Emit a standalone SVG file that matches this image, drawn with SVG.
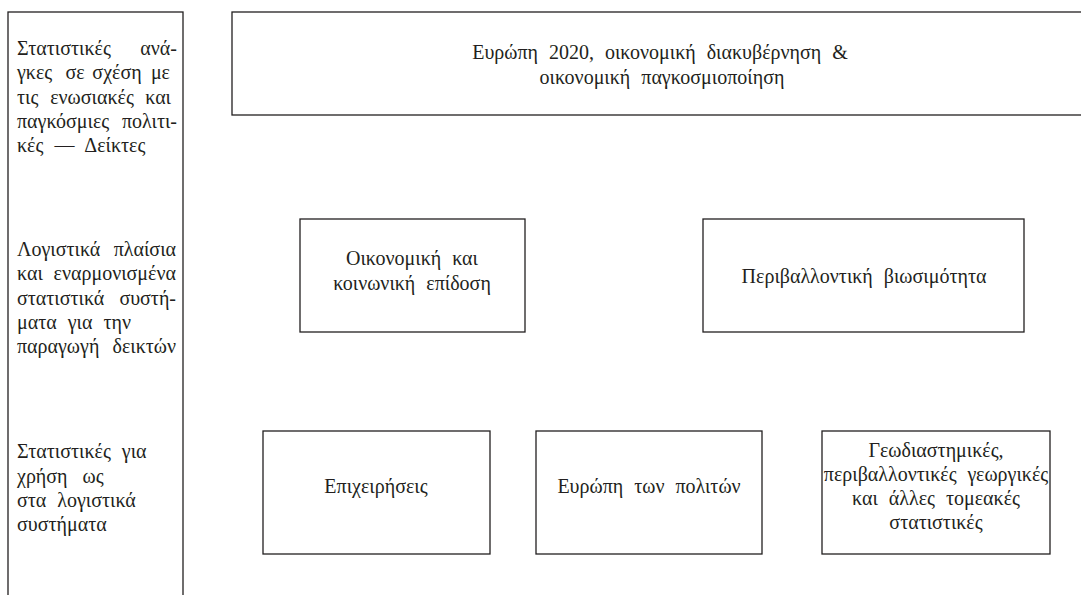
<svg xmlns="http://www.w3.org/2000/svg" width="1081" height="595" viewBox="0 0 1081 595">
<style>
.box{fill:#fff;stroke:#231f20;stroke-width:1.3}
.c{text-anchor:middle}
.m{text-anchor:middle}
.e{text-anchor:end}
</style>
<rect width="1081" height="595" fill="#fff"/>
<g font-family="Liberation Serif, serif" font-size="20" fill="#231f20" word-spacing="6">
<g id="side">
<rect class="box" x="8" y="12" width="175" height="600"/>
<text x="17" y="55">Στατιστικές</text><text class="e" x="177" y="55">ανά-</text>
<text x="17" y="79">γκες</text><text class="m" x="75" y="79">σε</text><text class="m" x="117" y="79">σχέση</text><text class="e" x="170" y="79">με</text>
<text x="17" y="104">τις</text><text class="m" x="92" y="104">ενωσιακές</text><text class="e" x="171" y="104">και</text>
<text x="17" y="128">παγκόσμιες</text><text class="e" x="177" y="128">πολιτι-</text>
<text x="17" y="152">κές — Δείκτες</text>
<text x="17" y="256">Λογιστικά</text><text class="e" x="176" y="256">πλαίσια</text>
<text x="17" y="280">και</text><text class="e" x="176" y="280">εναρμονισμένα</text>
<text x="17" y="305">στατιστικά</text><text class="e" x="176" y="305">συστή-</text>
<text x="17" y="329">ματα για την</text>
<text x="17" y="353">παραγωγή</text><text class="e" x="176" y="353">δεικτών</text>
<text x="17" y="458">Στατιστικές για</text>
<text x="17" y="483" word-spacing="10">χρήση ως</text>
<text x="17" y="507">στα λογιστικά</text>
<text x="17" y="531">συστήματα</text>
</g>
<g id="europe2020">
<rect class="box" x="232" y="12" width="870" height="103"/>
<text class="c" x="660" y="59">Ευρώπη 2020, οικονομική διακυβέρνηση &amp;</text>
<text class="c" x="662" y="84">οικονομική παγκοσμιοποίηση</text>
</g>
<g id="economic">
<rect class="box" x="300" y="219" width="225" height="113"/>
<text class="c" x="412" y="265">Οικονομική και</text>
<text class="c" x="412" y="290">κοινωνική επίδοση</text>
</g>
<g id="environment">
<rect class="box" x="703" y="219" width="321" height="113"/>
<text class="c" x="864" y="283">Περιβαλλοντική βιωσιμότητα</text>
</g>
<g id="business">
<rect class="box" x="263" y="431" width="227" height="123"/>
<text class="c" x="376" y="493">Επιχειρήσεις</text>
</g>
<g id="citizens">
<rect class="box" x="536" y="431" width="226" height="123"/>
<text class="c" x="649" y="493">Ευρώπη των πολιτών</text>
</g>
<g id="geospatial">
<rect class="box" x="822" y="431" width="228" height="123"/>
<text class="c" x="936" y="457">Γεωδιαστημικές,</text>
<text class="c" x="936" y="481">περιβαλλοντικές γεωργικές</text>
<text class="c" x="936" y="505">και άλλες τομεακές</text>
<text class="c" x="936" y="529">στατιστικές</text>
</g>
</g>
<g id="connectors"/>
</svg>
